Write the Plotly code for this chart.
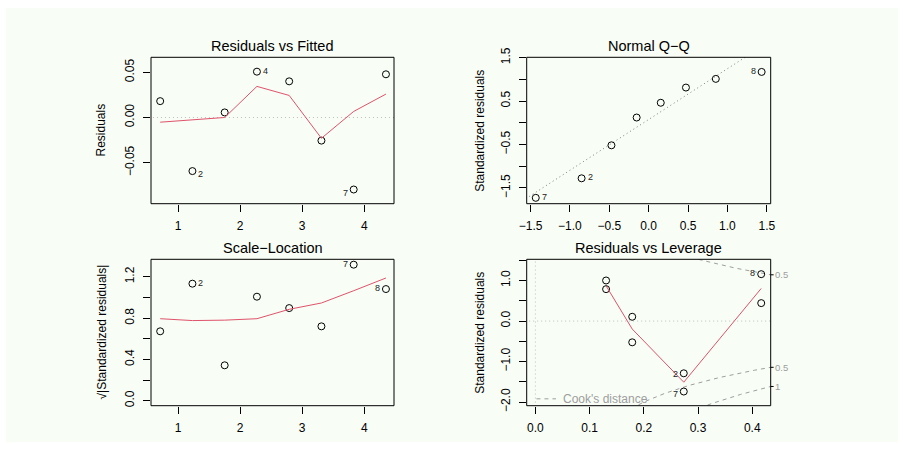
import numpy as np
import plotly.graph_objects as go

W, H = 904, 450
FONT = "Liberation Sans, Arial, Helvetica, sans-serif"
RED = "#DF536B"
COOK = "#9E9E9E"
ZERO = "#BEBEBE"
BG = "#F8FDF6"
DOT = "1px,3px"
DASH = "4px,4px"

# ---------------- data ----------------
obs_id = [1, 2, 3, 4, 5, 6, 7, 8]
fitted = [0.71, 1.23, 1.75, 2.27, 2.79, 3.31, 3.83, 4.35]
residuals = [0.0181, -0.0593, 0.0056, 0.0507, 0.0400, -0.0256, -0.0797, 0.0478]
smooth_rvf = [-0.0052, -0.0027, 0.0000, 0.0344, 0.0244, -0.0230, 0.0067, 0.0259]

qq_theoretical = [-1.434, -0.852, -0.473, -0.153, 0.153, 0.473, 0.852, 1.434]
qq_sample = [-1.73, -1.28, -0.52, 0.12, 0.46, 0.81, 1.01, 1.17]
qq_ids = [7, 2, None, None, None, None, None, 8]
qq_line_x = [-1.56, 1.56]
qq_line_y = [-1.75, 1.90]

sqrt_abs_std = [0.672, 1.133, 0.343, 1.007, 0.897, 0.720, 1.317, 1.081]
smooth_sl = [0.794, 0.776, 0.780, 0.794, 0.885, 0.946, 1.065, 1.188]

leverage = [0.4165, 0.2737, 0.1786, 0.1304, 0.1304, 0.1786, 0.2737, 0.4165]
std_resid = [0.443, -1.29, 0.106, 1.002, 0.788, -0.525, -1.74, 1.158]
smooth_lev_x = [0.1304, 0.1786, 0.2737, 0.4165]
smooth_lev_y = [0.870, -0.197, -1.510, 0.805]
cook_levels = [0.5, 1.0]
n_params = 2

titles = ["Residuals vs Fitted", "Normal Q\u2212Q", "Scale\u2212Location", "Residuals vs Leverage"]
ylabels = ["Residuals", "Standardized residuals", "\u221a|Standardized residuals|", "Standardized residuals"]

# ---------------- layout geometry ----------------
def px(xp):
    return xp / W


def py(yp):
    return 1 - yp / H


xd_left = [px(151), px(394)]
xd_right = [px(526.7), px(770.7)]
yd_top = [py(203.7), py(57.3)]
yd_bot = [py(405.7), py(259.3)]

fig = go.Figure()

marker = dict(symbol="circle-open", size=7, color="black", line=dict(width=1, color="black"))

# Panel 1: Residuals vs Fitted
fig.add_trace(go.Scatter(x=[0.4, 4.7], y=[0, 0], mode="lines", xaxis="x", yaxis="y",
                         line=dict(color=ZERO, width=1, dash=DOT), hoverinfo="skip"))
fig.add_trace(go.Scatter(x=fitted, y=residuals, mode="markers", xaxis="x", yaxis="y", marker=marker))
fig.add_trace(go.Scatter(x=fitted, y=smooth_rvf, mode="lines", xaxis="x", yaxis="y",
                         line=dict(color=RED, width=1)))

# Panel 2: Normal Q-Q
fig.add_trace(go.Scatter(x=qq_line_x, y=qq_line_y, mode="lines", xaxis="x2", yaxis="y2",
                         line=dict(color="#7F7F7F", width=1, dash=DOT)))
fig.add_trace(go.Scatter(x=qq_theoretical, y=qq_sample, mode="markers", xaxis="x2", yaxis="y2", marker=marker))

# Panel 3: Scale-Location
fig.add_trace(go.Scatter(x=fitted, y=sqrt_abs_std, mode="markers", xaxis="x3", yaxis="y3", marker=marker))
fig.add_trace(go.Scatter(x=fitted, y=smooth_sl, mode="lines", xaxis="x3", yaxis="y3",
                         line=dict(color=RED, width=1)))

# Panel 4: Residuals vs Leverage
fig.add_trace(go.Scatter(x=[-0.1, 0.6], y=[0, 0], mode="lines", xaxis="x4", yaxis="y4",
                         line=dict(color=ZERO, width=1, dash=DOT)))
fig.add_trace(go.Scatter(x=[0, 0], y=[-3, 3], mode="lines", xaxis="x4", yaxis="y4",
                         line=dict(color=ZERO, width=1, dash=DOT)))
hh = np.linspace(0.005, 0.434, 200)
for lev in cook_levels:
    cy = np.sqrt(lev * n_params * (1 - hh) / hh)
    for sgn in (1, -1):
        fig.add_trace(go.Scatter(x=hh, y=sgn * cy, mode="lines", xaxis="x4", yaxis="y4",
                                 line=dict(color=COOK, width=1, dash=DASH)))
fig.add_trace(go.Scatter(x=leverage, y=std_resid, mode="markers", xaxis="x4", yaxis="y4", marker=marker))
fig.add_trace(go.Scatter(x=smooth_lev_x, y=smooth_lev_y, mode="lines", xaxis="x4", yaxis="y4",
                         line=dict(color=RED, width=1)))
# legend segment for Cook's distance
fig.add_trace(go.Scatter(x=[0.002, 0.038], y=[-1.92, -1.92], mode="lines", xaxis="x4", yaxis="y4",
                         line=dict(color=COOK, width=1, dash=DASH)))

# ---------------- axes ----------------
base = dict(showgrid=False, zeroline=False, showline=False, ticks="outside", ticklen=7,
            tickwidth=1, tickcolor="black", tickmode="array", automargin=False,
            tickfont=dict(size=12, color="black", family=FONT))

def xax(domain, rng, vals, text, anchor):
    d = dict(base)
    d.update(domain=domain, range=rng, tickvals=vals, ticktext=text, anchor=anchor,
             ticklabelstandoff=4)
    return d


def yax(domain, rng, vals, text, anchor):
    d = dict(base)
    d.update(domain=domain, range=rng, tickvals=vals, ticktext=text, anchor=anchor,
             tickangle=-90, ticklabelstandoff=4)
    return d

fig.update_layout(
    xaxis=xax(xd_left, [0.562, 4.48], [1, 2, 3, 4], ["1", "2", "3", "4"], "y"),
    yaxis=yax(yd_top, [-0.0954, 0.0666], [-0.05, 0, 0.05], ["\u22120.05", "0.00", "0.05"], "x"),
    xaxis2=xax(xd_right, [-1.549, 1.549], [-1.5, -1, -0.5, 0, 0.5, 1, 1.5],
               ["\u22121.5", "\u22121.0", "\u22120.5", "0.0", "0.5", "1.0", "1.5"], "y2"),
    yaxis2=yax(yd_top, [-1.865, 1.507], [-1.5, -1, -0.5, 0, 0.5, 1, 1.5],
               ["\u22121.5", "", "\u22120.5", "", "0.5", "", "1.5"], "x2"),
    xaxis3=xax(xd_left, [0.562, 4.48], [1, 2, 3, 4], ["1", "2", "3", "4"], "y3"),
    yaxis3=yax(yd_bot, [-0.048, 1.369], [0, 0.2, 0.4, 0.6, 0.8, 1.0, 1.2],
               ["0.0", "", "0.4", "", "0.8", "", "1.2"], "x3"),
    xaxis4=xax(xd_right, [-0.016, 0.434], [0, 0.1, 0.2, 0.3, 0.4], ["0.0", "0.1", "0.2", "0.3", "0.4"], "y4"),
    yaxis4=yax(yd_bot, [-2.09, 1.525], [-2, -1.5, -1, -0.5, 0, 0.5, 1, 1.5],
               ["\u22122.0", "", "\u22121.0", "", "0.0", "", "1.0", ""], "x4"),
)

# ---------------- shapes ----------------
shapes = [dict(type="rect", xref="paper", yref="paper", x0=px(6), x1=px(898), y0=py(442), y1=py(8),
               fillcolor=BG, line=dict(width=0), layer="below")]
for xr, yr in [("x", "y"), ("x2", "y2"), ("x3", "y3"), ("x4", "y4")]:
    shapes.append(dict(type="rect", xref=f"{xr} domain", yref=f"{yr} domain", x0=0, x1=1, y0=0, y1=1,
                       line=dict(color="black", width=1)))
# right-side cook ticks
h_max = 0.434
cook_marks = []
for lev in cook_levels:
    v = np.sqrt(lev * n_params * (1 - h_max) / h_max)
    for sgn in (1, -1):
        if -2.09 < sgn * v < 1.525:
            cook_marks.append((sgn * v, lev))
for yv, lev in cook_marks:
    shapes.append(dict(type="line", xref="x4 domain", yref="y4", x0=1, x1=1.012, y0=yv, y1=yv,
                       line=dict(color="black", width=1)))
fig.update_layout(shapes=shapes)

# ---------------- annotations ----------------
ann = []
title_font = dict(size=14.5, color="black", family=FONT)
for t, xd, yp in [(titles[0], xd_left, 46), (titles[1], xd_right, 46),
                  (titles[2], xd_left, 248.3), (titles[3], xd_right, 248.3)]:
    ann.append(dict(text=t, xref="paper", yref="paper", x=(xd[0] + xd[1]) / 2, y=py(yp),
                    xanchor="center", yanchor="middle", showarrow=False, font=title_font))
lab_font = dict(size=12, color="black", family=FONT)
for t, xp, yd in [(ylabels[0], 100, yd_top), (ylabels[1], 479.3, yd_top),
                  (ylabels[2], 101, yd_bot), (ylabels[3], 479.3, yd_bot)]:
    ann.append(dict(text=t, xref="paper", yref="paper", x=px(xp), y=(yd[0] + yd[1]) / 2,
                    xanchor="center", yanchor="middle", textangle=-90, showarrow=False, font=lab_font))

id_font = dict(size=9, color="#222222", family=FONT)

def idlab(xr, yr, x, y, text, side, yshift=0):
    ann.append(dict(text=text, xref=xr, yref=yr, x=x, y=y, showarrow=False, font=id_font,
                    xanchor="left" if side == "r" else "right",
                    xshift=4 if side == "r" else -4, yshift=yshift, yanchor="middle"))

# Residuals vs Fitted
idlab("x", "y", fitted[1], residuals[1], "2", "r", -3)
idlab("x", "y", fitted[3], residuals[3], "4", "r", 1)
idlab("x", "y", fitted[6], residuals[6], "7", "l", -3)
# Q-Q
for i, oid in enumerate(qq_ids):
    if oid is None:
        continue
    side = "r" if qq_theoretical[i] < 0 else "l"
    idlab("x2", "y2", qq_theoretical[i], qq_sample[i], str(oid), side, 1)
# Scale-Location
idlab("x3", "y3", fitted[1], sqrt_abs_std[1], "2", "r", 1)
idlab("x3", "y3", fitted[6], sqrt_abs_std[6], "7", "l", 1)
idlab("x3", "y3", fitted[7], sqrt_abs_std[7], "8", "l", 1)
# Leverage
idlab("x4", "y4", leverage[7], std_resid[7], "8", "l", 1)
idlab("x4", "y4", leverage[1], std_resid[1], "2", "l", -1)
idlab("x4", "y4", leverage[6], std_resid[6], "7", "l", -2)

# Cook's labels on the right
for yv, lev in cook_marks:
    ann.append(dict(text=f"{lev:g}", xref="paper", yref="y4", x=px(773), y=yv, xanchor="left",
                    yanchor="middle", showarrow=False, font=dict(size=9.5, color=COOK, family=FONT)))
ann.append(dict(text="Cook's distance", xref="x4", yref="y4", x=0.047, y=-1.92, xanchor="left",
                yanchor="middle", showarrow=False, font=dict(size=12, color=COOK, family=FONT)))

fig.update_layout(
    annotations=ann,
    width=W, height=H, margin=dict(l=0, r=0, t=0, b=0, pad=0, autoexpand=False),
    paper_bgcolor="white", plot_bgcolor="rgba(0,0,0,0)",
    showlegend=False, font=dict(family=FONT, color="black"),
)

fig.write_html(
    "out.html",
    config={"displayModeBar": False, "responsive": False},
    post_script="""
document.body.style.margin='0';document.body.style.padding='0';
document.body.style.overflow='hidden';document.documentElement.style.overflow='hidden';
""",
)
